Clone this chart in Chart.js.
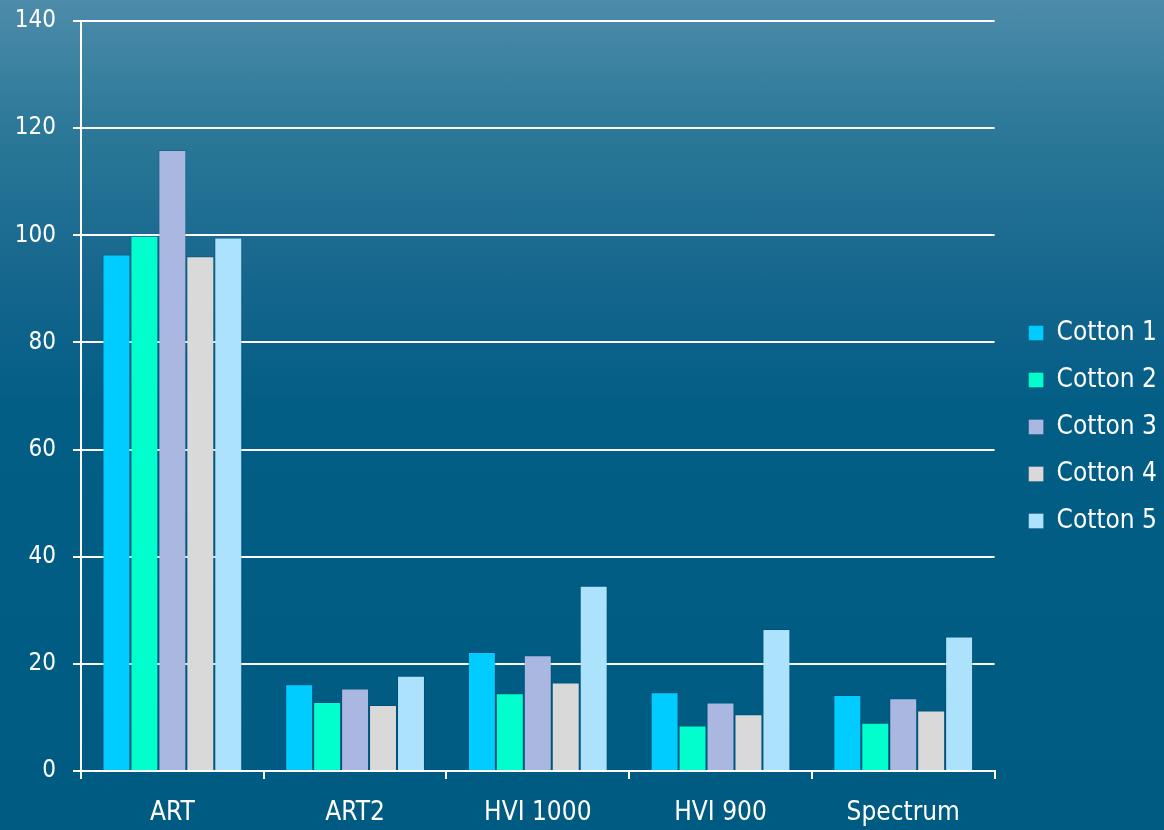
<!DOCTYPE html>
<html>
<head>
<meta charset="utf-8">
<script src="https://cdn.jsdelivr.net/npm/chart.js@4"></script>
<style>
  html, body { margin: 0; padding: 0; }
  body {
    width: 1164px; height: 830px; overflow: hidden;
    background: linear-gradient(to bottom, #4d8caa 0px, #2b7898 130px, #17678e 270px, #035e86 400px, #005b82 830px);
  }
  #wrap { position: relative; width: 1164px; height: 830px; }
</style>
</head>
<body>
<div id="wrap"><canvas id="myChart"></canvas></div>
<script>
var categories = ["ART", "ART2", "HVI 1000", "HVI 900", "Spectrum"];
var seriesNames = ["Cotton 1", "Cotton 2", "Cotton 3", "Cotton 4", "Cotton 5"];
var cotton1 = [96.4, 16.2, 22.2, 14.7, 14.2];
var cotton2 = [99.9, 12.9, 14.5, 8.5, 9.0];
var cotton3 = [115.9, 15.4, 21.6, 12.8, 13.6];
var cotton4 = [96.1, 12.3, 16.5, 10.6, 11.3];
var cotton5 = [99.6, 17.8, 34.6, 26.5, 25.1];
var yTicks = [0, 20, 40, 60, 80, 100, 120, 140];

var colors = ["#00ccff", "#00ffcc", "#aab7e0", "#d9d9d9", "#ade2fd"];
var values = [cotton1, cotton2, cotton3, cotton4, cotton5];

var font = "'DejaVu Sans Condensed', 'DejaVu Sans', sans-serif";

var ctx = document.getElementById("myChart");
var myChart = new Chart(ctx, {
  type: 'bar',
  data: {
    labels: categories,
    datasets: seriesNames.map(function (name, i) {
      return {
        label: name,
        data: values[i],
        backgroundColor: colors[i],
        borderColor: "rgba(0,50,90,0.25)",
        borderWidth: 1,
        categoryPercentage: 0.765,
        barPercentage: 1.0
      };
    })
  },
  options: {
    responsive: true,
    maintainAspectRatio: false,
    animation: false,
    layout: { padding: { top: 0, right: -3, bottom: 0, left: 0 } },
    plugins: {
      tooltip: { enabled: false },
      legend: {
        position: 'right',
        // empty title only pushes the legend items down a little
        title: { display: true, text: '', font: { size: 10, lineHeight: 1 }, padding: { top: 14, bottom: 0 } },
        labels: {
          color: "#ffffff",
          font: { family: font, size: 26 },
          boxWidth: 15,
          boxHeight: 15,
          padding: 21
        }
      }
    },
    scales: {
      x: {
        grid: {
          display: true,
          drawOnChartArea: false,
          drawTicks: true,
          tickLength: 8,
          color: "#ffffff",
          lineWidth: 2
        },
        border: { display: true, color: "#ffffff", width: 2 },
        ticks: {
          color: "#ffffff",
          font: { family: font, size: 26 },
          padding: 19,
          maxRotation: 0
        },
        afterFit: function (scale) { scale.height = 59; }
      },
      y: {
        min: 0,
        max: 140,
        afterBuildTicks: function (scale) {
          scale.ticks = yTicks.map(function (v) { return { value: v }; });
        },
        grid: {
          color: "#ffffff",
          lineWidth: 2,
          tickLength: 8
        },
        border: { display: true, color: "#ffffff", width: 2 },
        ticks: {
          color: "#ffffff",
          font: { family: font, size: 24, lineHeight: 1 },
          padding: 17
        },
        afterFit: function (scale) {
          scale.width = 81;
          scale.paddingTop = 21;
          scale.paddingBottom = 0;
        }
      },
      // spacer between plot and legend
      gap: {
        position: 'right',
        display: true,
        grid: { display: false },
        border: { display: false },
        ticks: { display: false },
        afterFit: function (scale) { scale.width = 13; }
      }
    }
  }
});
</script>
</body>
</html>
